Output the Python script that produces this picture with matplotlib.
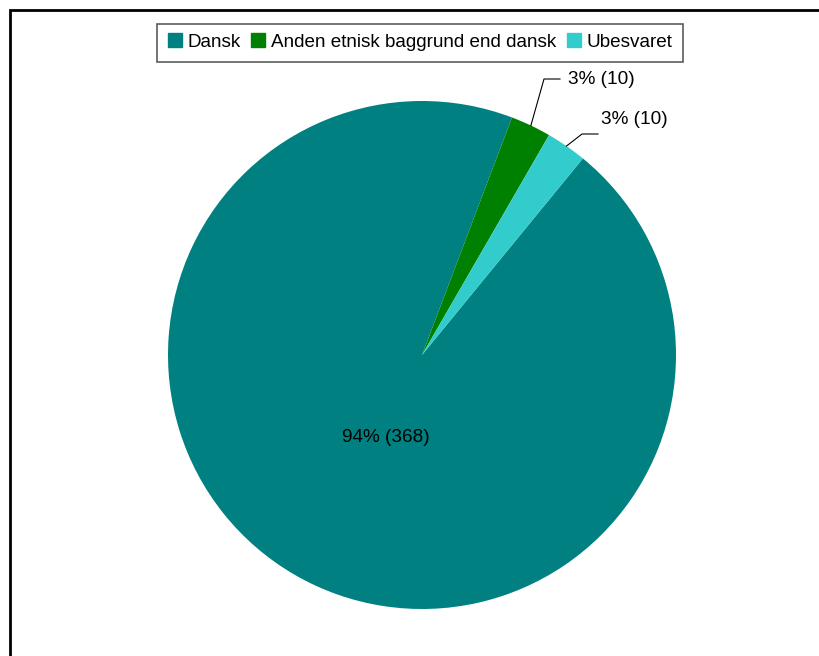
import numpy as np
import matplotlib
matplotlib.use("Agg")
import matplotlib.pyplot as plt
from matplotlib.lines import Line2D
from matplotlib.patches import Rectangle

plt.rcParams['font.family'] = ['Liberation Sans', 'DejaVu Sans']

categories = ["Dansk", "Anden etnisk baggrund end dansk", "Ubesvaret"]
values = [368, 10, 10]
pct_labels = ["94% (368)", "3% (10)", "3% (10)"]
colors = ["#008080", "#008000", "#33CCCC"]

W, H = 819, 656
fig = plt.figure(figsize=(W / 100, H / 100), dpi=100)

# outer frame
fig.patches.append(Rectangle((10 / W, -0.2), 2.0, (H - 9.5) / H + 0.2,
                             transform=fig.transFigure, fill=False,
                             edgecolor="black", lw=2, zorder=0))

cx, cy, R = 422, 355, 254
ax = fig.add_axes([(cx - R) / W, (H - cy - R) / H, 2 * R / W, 2 * R / H])

wedges, _ = ax.pie(values, colors=colors, startangle=50.7, counterclock=False,
                   radius=1, center=(0, 0), frame=True)
ax.set_xlim(-1, 1)
ax.set_ylim(-1, 1)
ax.set_aspect('equal')
ax.axis('off')

def px(x, y):
    return ((x - cx) / R, (cy - y) / R)

# main label
ax.text(*px(386, 438), pct_labels[0], ha='center', va='center', fontsize=13.7)

# small slice labels with leaders
leader_pts = [None, [(544, 79), (560, 79)], [(582, 134), (598, 134)]]
text_pos = [None, (568, 79), (601, 119)]
for i in (1, 2):
    w = wedges[i]
    mid = np.deg2rad((w.theta1 + w.theta2) / 2)
    ex, ey = np.cos(mid), np.sin(mid)
    pts = [(ex, ey)] + [px(*p) for p in leader_pts[i]]
    xs, ys = zip(*pts)
    ax.plot(xs, ys, color='black', lw=0.8, clip_on=False)
    ax.text(*px(*text_pos[i]), pct_labels[i], ha='left', va='center', fontsize=13.7)

handles = [Line2D([], [], marker='s', linestyle='none', markersize=10,
                  markerfacecolor=c, markeredgecolor=c) for c in colors]
leg = fig.legend(handles, categories, loc='center', bbox_to_anchor=(420 / W, 1 - 42.5 / H),
                 ncol=3, frameon=True, fancybox=False, fontsize=13.6,
                 handlelength=0.75, handletextpad=0.3, columnspacing=0.55,
                 borderpad=0.55, borderaxespad=0)
leg.get_frame().set_edgecolor('#333333')
leg.get_frame().set_linewidth(1.2)

fig.savefig("out.png", dpi=100)
